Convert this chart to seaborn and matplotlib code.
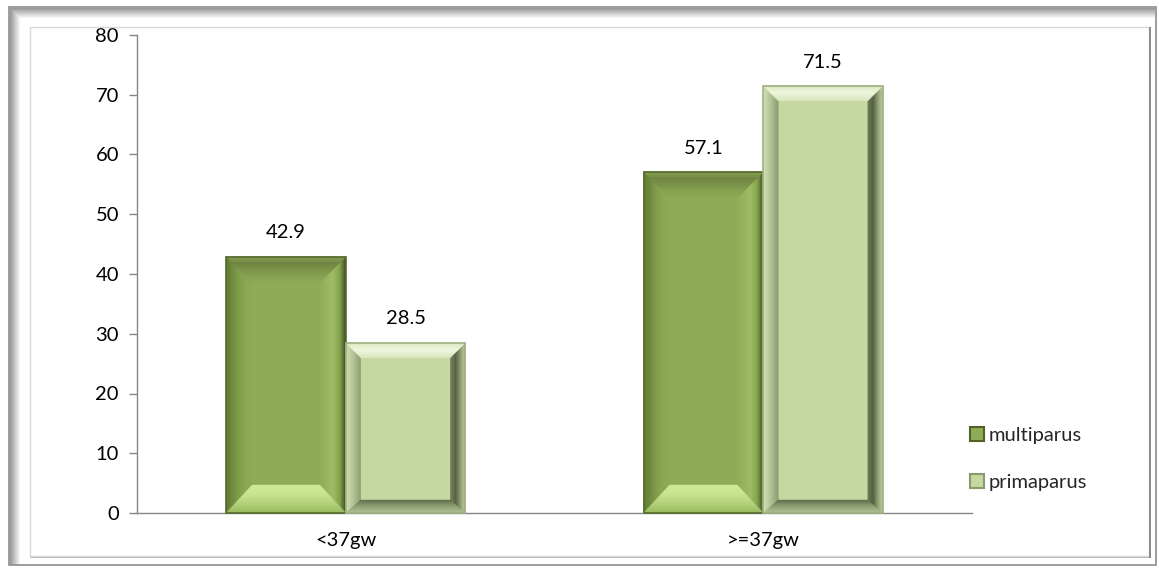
import numpy as np
import pandas as pd
import matplotlib
matplotlib.use("Agg")
import matplotlib.pyplot as plt
import seaborn as sns
from matplotlib.patches import Polygon, Rectangle, Patch
from matplotlib.transforms import IdentityTransform
from matplotlib.colors import to_rgb

# ---- data ----
categories = ["<37gw", ">=37gw"]
series = ["multiparus", "primaparus"]
multiparus = [42.9, 57.1]
primaparus = [28.5, 71.5]
y_ticks = [0, 10, 20, 30, 40, 50, 60, 70, 80]

colors = {"multiparus": "#8fab58", "primaparus": "#c4d8a0"}

df = pd.DataFrame({
    "group": categories * 2,
    "series": [series[0]] * 2 + [series[1]] * 2,
    "value": multiparus + primaparus,
})

sns.set_theme(style="white")
plt.rcParams["font.family"] = ["Lato", "DejaVu Sans"]
FS = 14.5

W, H = 1159, 568
fig = plt.figure(figsize=(W / 100, H / 100), dpi=100)
fig.patch.set_facecolor("white")
ax = fig.add_axes([137 / W, 1 - 513 / H, (972 - 137) / W, (513 - 35) / H])

sns.barplot(data=df, x="group", y="value", hue="series", order=categories,
            hue_order=series, palette=colors, width=0.573, gap=0,
            saturation=1, edgecolor="none", linewidth=0, ax=ax, legend=False)

ax.set_xlim(-0.5, 1.5)
ax.set_ylim(0, 80)
ax.set_yticks(y_ticks)
ax.set_yticklabels([str(t) for t in y_ticks], fontsize=FS, color="black")
ax.set_xticks([0, 1])
ax.set_xticklabels(categories, fontsize=FS, color="black")
ax.set_xticks([-0.5, 0.5, 1.5], minor=True)
ax.tick_params(axis="x", which="major", length=0, pad=14)
ax.tick_params(axis="x", which="minor", length=6, width=1, color="#868686", direction="out")
ax.tick_params(axis="y", which="major", length=6, width=1, color="#868686",
               direction="out", pad=7, left=True)
ax.set_xlabel("")
ax.set_ylabel("")
for side in ("top", "right"):
    ax.spines[side].set_visible(False)
for side in ("left", "bottom"):
    ax.spines[side].set_color("#868686")
    ax.spines[side].set_linewidth(1)
ax.grid(False)


def mix(c1, c2, f):
    a, b = np.array(to_rgb(c1)), np.array(to_rgb(c2))
    return tuple(a + (b - a) * f)


def bevel(ax, rect, sizes, sides, n=14):
    """Paint bevelled edges over a bar: sizes = (top, bottom, left, right) in px,
    sides = dict of side -> list of colours from the outer edge inwards."""
    x0, y0 = ax.transData.transform((rect.get_x(), rect.get_y()))
    x1, y1 = ax.transData.transform((rect.get_x() + rect.get_width(),
                                     rect.get_y() + rect.get_height()))
    t, b, l, r = sizes
    for k in range(n):
        f0, f1 = k / n, (k + 1) / n
        c_frac = (k + 0.5) / n
        polys = {
            "top": [(x0 + l * f0, y1 - t * f0), (x1 - r * f0, y1 - t * f0),
                    (x1 - r * f1, y1 - t * f1), (x0 + l * f1, y1 - t * f1)],
            "bottom": [(x0 + l * f0, y0 + b * f0), (x1 - r * f0, y0 + b * f0),
                       (x1 - r * f1, y0 + b * f1), (x0 + l * f1, y0 + b * f1)],
            "left": [(x0 + l * f0, y0 + b * f0), (x0 + l * f1, y0 + b * f1),
                     (x0 + l * f1, y1 - t * f1), (x0 + l * f0, y1 - t * f0)],
            "right": [(x1 - r * f0, y0 + b * f0), (x1 - r * f1, y0 + b * f1),
                      (x1 - r * f1, y1 - t * f1), (x1 - r * f0, y1 - t * f0)],
        }
        for side in ("left", "right", "top", "bottom"):
            stops = sides[side]
            pos = c_frac * (len(stops) - 1)
            i = min(int(pos), len(stops) - 2)
            col = mix(stops[i], stops[i + 1], pos - i)
            fig.add_artist(Polygon(polys[side], closed=True, facecolor=col,
                                   edgecolor=col, linewidth=0.3,
                                   transform=IdentityTransform()))
    fig.add_artist(Rectangle((x0, y0), x1 - x0, y1 - y0, fill=False,
                             edgecolor=sides["edge"], linewidth=1.2,
                             transform=IdentityTransform()))


dark_sides = {
    "top": ["#8aa456", "#6f8642", "#7a9248", "#86a050", "#8dab56"],
    "bottom": ["#97b85c", "#b2d078", "#c8e38d", "#d2ea98"],
    "left": ["#5f7a32", "#6e8a3c", "#829d4c", "#8ba754", "#8eaa56"],
    "right": ["#3c4a20", "#86a34f", "#a0bd64", "#98b45e", "#90ad58"],
    "edge": "#55692c",
}
light_sides = {
    "top": ["#d8e7bd", "#f2f8e3", "#dbe9c2"],
    "bottom": ["#b5c69a", "#8d9d74", "#5f6c4c"],
    "left": ["#d3e3b6", "#b2c596", "#8a9c70"],
    "right": ["#c0d1a2", "#8e9f74", "#4f5a3d", "#6c7a58"],
    "edge": "#9fb183",
}

for container, name in zip(ax.containers, series):
    for rect in container:
        if name == "multiparus":
            bevel(ax, rect, (26, 28, 26, 26), dark_sides)
        else:
            bevel(ax, rect, (15, 13, 15, 15), light_sides)
    ax.bar_label(container, fmt="%.1f", padding=11, fontsize=FS, color="black")

# legend
handles = [Patch(facecolor=colors[s], edgecolor=e, linewidth=1.5)
           for s, e in zip(series, ["#4f6228", "#8a9a70"])]
fig.legend(handles, series, loc="center left", bbox_to_anchor=(962 / W, 1 - 459 / H),
           frameon=False, fontsize=FS, handlelength=0.7, handleheight=0.7,
           handletextpad=0.2, labelspacing=1.45, borderaxespad=0)

# chart frame with soft inner shadow
for k in range(10):
    c = mix("#9a9a9a", "#ffffff", k / 10)
    fig.add_artist(Rectangle((10 + k, H - 565), 1, 565 - 8 - k, facecolor=c,
                             edgecolor="none", transform=IdentityTransform()))
    fig.add_artist(Rectangle((10 + k, H - 8 - k - 1), 1145 - k, 1, facecolor=c,
                             edgecolor="none", transform=IdentityTransform()))
fig.add_artist(Rectangle((30, H - 556), 1149 - 30, 556 - 27, fill=False,
                         edgecolor="#d9d9d9", linewidth=1, transform=IdentityTransform()))
fig.add_artist(Rectangle((9, H - 565), 1156 - 9, 565 - 7, fill=False,
                         edgecolor="#8c8c8c", linewidth=1.2, transform=IdentityTransform()))
fig.add_artist(Rectangle((1149, H - 558), 1.5, 558 - 27, facecolor="#8c8c8c",
                         edgecolor="none", transform=IdentityTransform()))
fig.add_artist(Rectangle((30, H - 558), 1149 - 30, 1.5, facecolor="#bdbdbd",
                         edgecolor="none", transform=IdentityTransform()))

fig.savefig("out.png", dpi=100, facecolor="white")
